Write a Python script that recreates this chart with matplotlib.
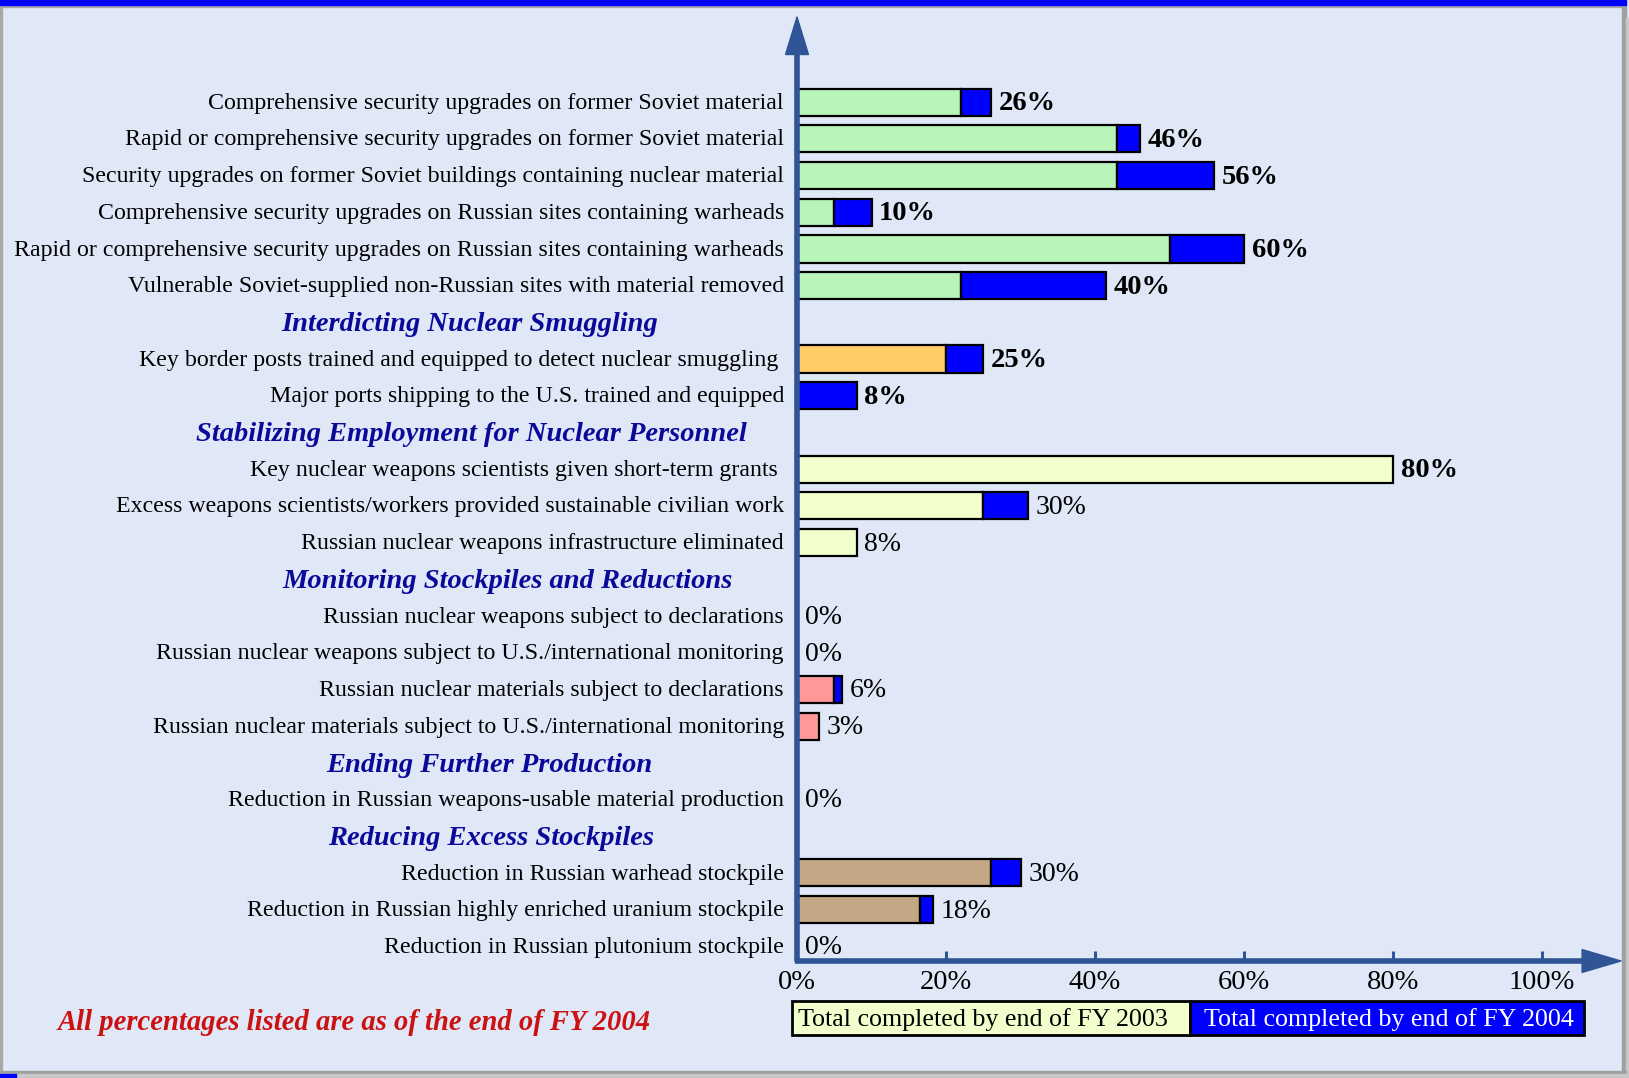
import matplotlib
matplotlib.use("Agg")
import matplotlib.pyplot as plt
import matplotlib.transforms as mtransforms
from matplotlib.patches import Rectangle

plt.rcParams['font.family'] = ['Liberation Serif', 'DejaVu Serif']

# ---- data ----
labels = [
    "Comprehensive security upgrades on former Soviet material",
    "Rapid or comprehensive security upgrades on former Soviet material",
    "Security upgrades on former Soviet buildings containing nuclear material",
    "Comprehensive security upgrades on Russian sites containing warheads",
    "Rapid or comprehensive security upgrades on Russian sites containing warheads",
    "Vulnerable Soviet-supplied non-Russian sites with material removed",
    "Key border posts trained and equipped to detect nuclear smuggling ",
    "Major ports shipping to the U.S. trained and equipped",
    "Key nuclear weapons scientists given short-term grants ",
    "Excess weapons scientists/workers provided sustainable civilian work",
    "Russian nuclear weapons infrastructure eliminated",
    "Russian nuclear weapons subject to declarations",
    "Russian nuclear weapons subject to U.S./international monitoring",
    "Russian nuclear materials subject to declarations",
    "Russian nuclear materials subject to U.S./international monitoring",
    "Reduction in Russian weapons-usable material production",
    "Reduction in Russian warhead stockpile",
    "Reduction in Russian highly enriched uranium stockpile",
    "Reduction in Russian plutonium stockpile",
]
group = [0, 0, 0, 0, 0, 0, 1, 1, 2, 2, 2, 3, 3, 3, 3, 4, 5, 5, 5]
fy2003 = [22, 43, 43, 5, 50, 22, 20, 0, 80, 25, 8, 0, 0, 5, 3, 0, 26, 16.5, 0]
fy2004 = [26, 46, 56, 10, 60, 41.5, 25, 8, 80, 31, 8, 0, 0, 6, 3, 0, 30, 18.3, 0]
pct_text = ["26%", "46%", "56%", "10%", "60%", "40%", "25%", "8%", "80%",
            "30%", "8%", "0%", "0%", "6%", "3%", "0%", "30%", "18%", "0%"]
headers = [None,
           "Interdicting Nuclear Smuggling",
           "Stabilizing Employment for Nuclear Personnel",
           "Monitoring Stockpiles and Reductions",
           "Ending Further Production",
           "Reducing Excess Stockpiles"]
ticks = [0, 20, 40, 60, 80, 100]
legend_labels = ["Total completed by end of FY 2003", "Total completed by end of FY 2004"]
note = "All percentages listed are as of the end of FY 2004"

# ---- styles ----
group_colors = ['#B9F4B9', '#FFCC66', '#F0FFCC', '#FF9999', '#F0FFCC', '#C4A886']
header_px = [None, 470, 471, 508, 489, 491]   # header centre, px from left
bold_rows = set(range(9))
blue = '#0000FF'
axis_col = '#2F5597'
bg = '#E0E8F8'

W, H = 1629, 1078
fig = plt.figure(figsize=(W / 100, H / 100), dpi=100, facecolor=bg)

# frame
def frame(x, y, w, h, c):
    fig.patches.append(Rectangle((x / W, 1 - (y + h) / H), w / W, h / H,
                                 transform=fig.transFigure, color=c, zorder=0))

frame(0, 5, 2, 1067, '#A8A8A8')
frame(0, 5, 1625, 2, '#A8A8A8')
frame(1622, 5, 4, 1067, '#A0A0A0')
frame(1626, 18, 3, 1060, '#C8C8C8')
frame(0, 1071, 1626, 3, '#A0A0A0')
frame(0, 1074, 1629, 4, '#C8C8C8')
frame(0, 0, 1626, 5, blue)
frame(0, 1074, 16, 4, blue)

# axes: x 0..100 -> px 797..1542 ; y rows with axis line at px 960
ax = fig.add_axes([797 / W, 1 - 961 / H, (1542 - 797) / W, (961 - 17) / H])
ax.set_facecolor('none')
ax.set_xlim(0, 100)
ax.set_ylim(23.4, -2.32)
for s in ax.spines.values():
    s.set_visible(False)

# row layout
ypos, hpos = [], {}
y = 0
prev = None
for g in group:
    if g != prev and headers[g] is not None:
        hpos[g] = y
        y += 1
    ypos.append(y)
    y += 1
    prev = g

for i in range(len(labels)):
    c = group_colors[group[i]]
    if fy2003[i] > 0:
        ax.barh(ypos[i], fy2003[i], height=0.74, color=c, edgecolor='black', lw=1.6, zorder=3)
    if fy2004[i] > fy2003[i]:
        ax.barh(ypos[i], fy2004[i] - fy2003[i], left=fy2003[i], height=0.74,
                color=blue, edgecolor='black', lw=1.6, zorder=3)
    bold = i in bold_rows
    ax.annotate(pct_text[i], (fy2004[i], ypos[i] + 0.04), xytext=(5.5, 0), textcoords='offset points',
                ha='left', va='center', fontsize=20.5 if bold else 20,
                fontweight='bold' if bold else 'normal', annotation_clip=False)
    ax.text(-1.75, ypos[i] + 0.03, labels[i], ha='right', va='center', fontsize=17.2, clip_on=False)

tr = mtransforms.blended_transform_factory(fig.transFigure, ax.transData)
for g, yy in hpos.items():
    fig.text(header_px[g] / W, yy + 0.06, headers[g], transform=tr, ha='center', va='center',
             fontsize=20.5, fontweight='bold', fontstyle='italic', color='#0A0A9A')

# axis arrows
ax.annotate('', xy=(0, -2.32), xytext=(0, 23.4), annotation_clip=False,
            arrowprops=dict(arrowstyle='simple,head_length=27,head_width=16.5,tail_width=3',
                            mutation_scale=1, color=axis_col, shrinkA=0, shrinkB=0))
ax.annotate('', xy=(110.6, 23.4), xytext=(-0.2, 23.4), annotation_clip=False,
            arrowprops=dict(arrowstyle='simple,head_length=28,head_width=16.5,tail_width=3',
                            mutation_scale=1, color=axis_col, shrinkA=0, shrinkB=0))

ax.set_yticks([])
ax.set_xticks(ticks)
ax.set_xticklabels([f"{t}%" for t in ticks], fontsize=20.5)
ax.tick_params(axis='x', direction='in', length=7, width=2.2, color=axis_col, pad=6.5)

# legend boxes
def box(x0, x1, fc):
    fig.patches.append(Rectangle((x0 / W, 1 - 1035 / H), (x1 - x0) / W, 34 / H,
                                 transform=fig.transFigure, facecolor=fc,
                                 edgecolor='black', lw=2, zorder=2))

box(792, 1190, '#F0FFCC')
box(1190, 1584, blue)
fig.text(798 / W, 1 - 1020 / H, legend_labels[0], ha='left', va='center', fontsize=18.75)
fig.text(1204 / W, 1 - 1020 / H, legend_labels[1], ha='left', va='center', fontsize=18.75, color='white')

fig.text(354 / W, 1 - 1022 / H, note, ha='center', va='center', fontsize=20.6,
         fontweight='bold', fontstyle='italic', color='#CC1111')

fig.savefig('out.png', dpi=100, facecolor=bg)
